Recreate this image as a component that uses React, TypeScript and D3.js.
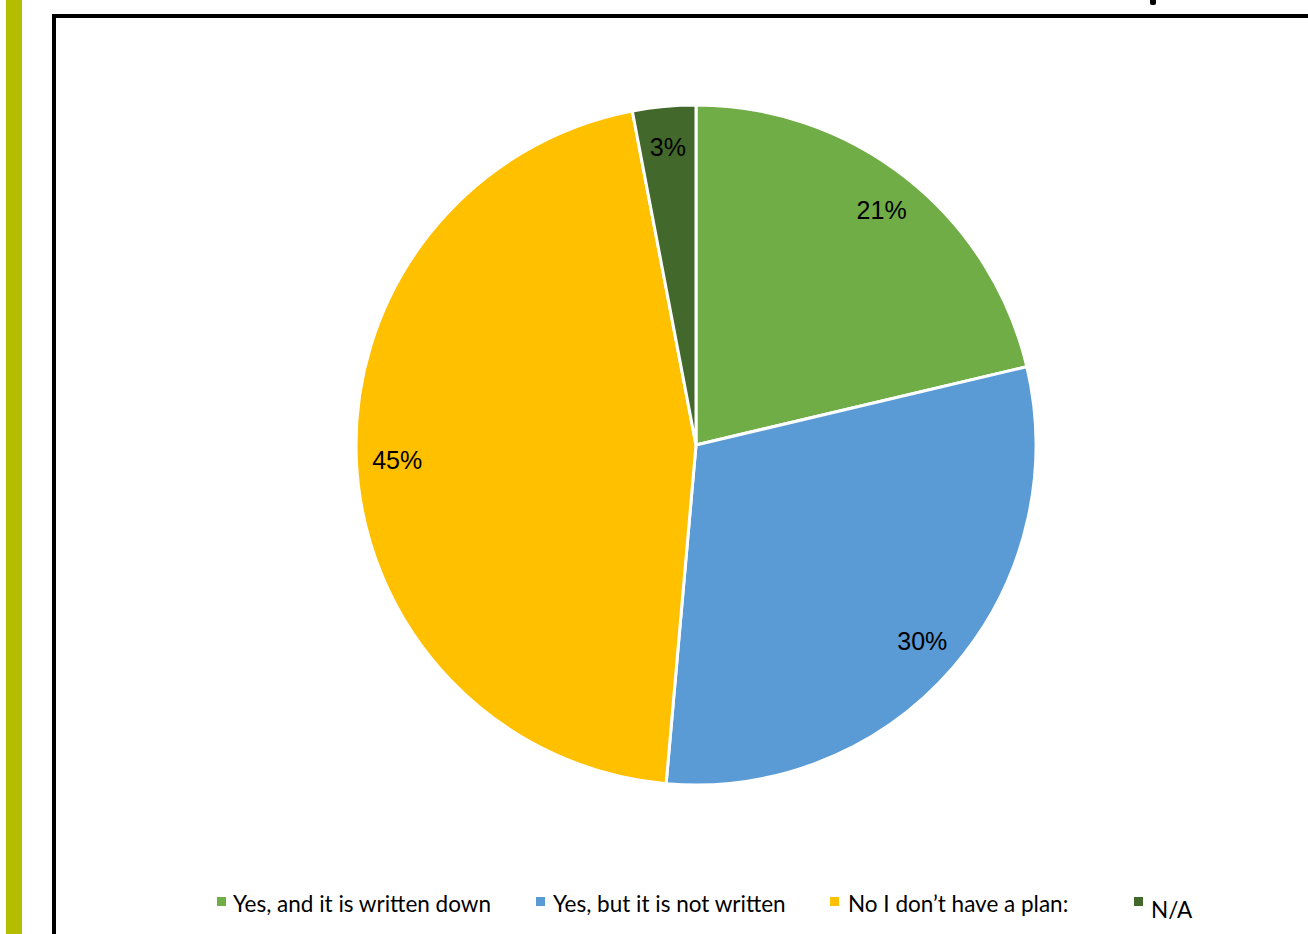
import React from "react";
import * as d3 from "d3";

const categories = ["Yes, and it is written down", "Yes, but it is not written", "No I don\u2019t have a plan:", "N/A"];
const values = [21.3, 30.1, 45.6, 3.0];
const labels = ["21%", "30%", "45%", "3%"];
const colors = ["#70AD47", "#5B9BD5", "#FFC000", "#43682B"];

const W = 1308;
const H = 934;

export default function App() {
  const cx = 696;
  const cy = 445;
  const r = 340;
  const pie = d3.pie<number>().sort(null).value((d) => d)(values);
  const arc = d3.arc<d3.PieArcDatum<number>>().innerRadius(0).outerRadius(r);
  const labelArc = d3.arc<d3.PieArcDatum<number>>().innerRadius(r * 0.88).outerRadius(r * 0.88);

  const legendX = [217, 536, 830, 1134];
  const textX = [233, 553, 848, 1151];
  const legendDy = [0, 0, 0, 6];

  return (
    <svg width={W} height={H} style={{ position: "absolute", left: 0, top: 0, display: "block", background: "#fff" }}>
      <rect x={6} y={0} width={16} height={H} fill="#B5BD00" />
      <rect x={1150} y={-3} width={6} height={8} rx={2} fill="#000" />
      <rect x={54} y={16} width={W} height={H} fill="none" stroke="#000" strokeWidth={4} />
      <g transform={`translate(${cx},${cy})`}>
        {pie.map((p, i) => (
          <path key={i} d={arc(p) || ""} fill={colors[i]} stroke="#fff" strokeWidth={3} strokeLinejoin="round" />
        ))}
        {pie.map((p, i) => {
          const [x, y] = labelArc.centroid(p);
          return (
            <text key={"l" + i} x={x} y={y} textAnchor="middle" dominantBaseline="central"
              fontFamily="'Liberation Sans', Arial, sans-serif" fontSize={25} fill="#000">
              {labels[i]}
            </text>
          );
        })}
      </g>
      <g fontFamily="Lato, 'Open Sans', sans-serif" fontSize={22.5} fill="#000">
        {categories.map((c, i) => (
          <g key={c}>
            <rect x={legendX[i]} y={897} width={9} height={9} fill={colors[i]} />
            <text x={textX[i]} y={903 + legendDy[i]} dominantBaseline="central">{c}</text>
          </g>
        ))}
      </g>
    </svg>
  );
}
